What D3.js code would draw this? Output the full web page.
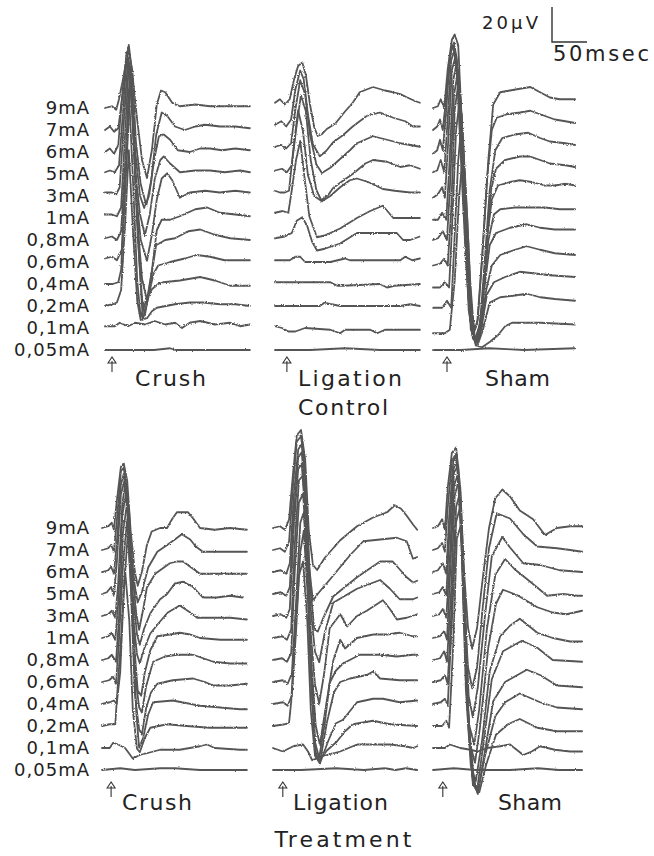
<!DOCTYPE html>
<html>
<head>
<meta charset="utf-8">
<script src="https://cdn.jsdelivr.net/npm/d3@7"></script>
<style>
  body { margin: 0; background: #fff; }
  svg { display: block; font-family: "DejaVu Sans", sans-serif; }
  .trace { fill: none; stroke: #555; stroke-width: 1.8; stroke-linejoin: round; stroke-linecap: round; }
  .label { fill: #222; font-size: 18px; letter-spacing: 1px; }
  .title { fill: #222; font-size: 22px; }
</style>
</head>
<body>
<div id="chart"></div>
<script>
// Stimulus intensities, top row to bottom row
const currents = ["9mA", "7mA", "6mA", "5mA", "3mA", "1mA", "0,8mA", "0,6mA", "0,4mA", "0,2mA", "0,1mA", "0,05mA"];
const models = ["Crush", "Ligation", "Sham"];
const groups = ["Control", "Treatment"];

// Stimulus onset (ms) for Crush, Ligation, Sham
const stimControl = [10, 17, 20];
const stimTreatment = [13, 14, 14];

// Each trace: [time in ms, amplitude in μV], one per intensity (same order as currents)
const controlCrush = [
  [[0,10,16,20,27,34,40,46,53,60,67,74,80,86,96,107,129,150,179,207], [0,1,-1,5,19,36,16,-7,-30,-40,-24,2,10,9,3,1,2,1,1,1]],
  [[0,7,13,19,26,33,39,44,51,59,66,73,81,89,100,114,129,143,164,186,207], [0,2,-1,1,23,47,34,-6,-31,-43,-29,-3,10,8,2,0,2,3,2,2,1]],
  [[0,7,13,19,24,31,37,43,50,56,63,70,77,84,93,104,121,136,150,167,186,207], [0,2,-1,4,30,57,44,1,-25,-32,-25,-5,9,10,7,1,0,2,2,1,2,1]],
  [[0,7,14,20,26,31,37,43,50,57,64,71,79,84,93,107,129,150,171,193,207], [1,2,1,5,37,68,48,2,-23,-35,-23,-3,8,10,6,1,2,2,1,2,1]],
  [[0,10,16,21,27,33,39,44,51,60,67,74,81,89,96,107,121,143,164,186,207], [2,2,1,5,43,79,55,3,-25,-37,-22,-2,10,13,9,-1,2,3,2,3,2]],
  [[0,10,17,23,29,34,40,46,53,60,67,74,81,93,107,129,146,164,186,207], [2,2,1,6,50,89,56,-1,-35,-47,-30,-7,-1,-1,1,5,6,3,2,1]],
  [[0,10,17,23,30,36,41,47,53,57,64,73,86,100,119,136,157,179,207], [1,2,0,5,51,99,57,0,-34,-43,-26,-3,0,1,5,6,3,1,0]],
  [[0,10,17,24,31,37,43,49,54,61,69,76,93,114,131,150,171,207], [2,3,1,7,58,109,58,1,-33,-22,-7,-2,0,2,4,3,1,1]],
  [[0,11,19,23,29,34,40,46,51,59,67,76,83,107,136,157,179,207], [0,0,1,8,59,111,59,2,-19,-9,-3,0,1,2,4,2,-1,-1]],
  [[0,11,17,23,29,34,40,46,51,60,67,74,100,121,140,164,186,207], [0,1,2,9,49,89,43,3,-8,-7,-3,-1,1,2,2,1,1,0]],
  [[0,14,21,33,43,57,71,86,100,110,121,136,157,179,193,207], [1,1,3,1,3,2,4,2,3,0,3,4,2,3,1,2]],
  [[0,40,70,93,100,140,207], [0,0,0,1,0,0,0]]
];

const controlLigation = [
  [[0,7,14,21,27,33,39,44,50,56,61,67,74,86,100,111,121,140,157,169,179,189,200,207], [3,5,2,5,16,24,26,19,2,-11,-16,-15,-12,-9,-2,3,9,12,10,9,8,6,4,3]],
  [[0,9,16,23,29,36,41,47,54,64,73,83,97,111,131,150,169,186,197,207], [3,5,2,6,23,34,29,9,-8,-15,-12,-7,-3,2,8,10,7,5,2,2]],
  [[0,9,16,23,29,36,43,50,59,67,79,93,107,117,140,160,179,193,207], [3,4,2,5,24,41,33,10,-7,-12,-9,-4,1,5,9,7,5,4,3]],
  [[0,10,17,24,30,37,44,51,59,66,76,83,100,111,129,140,160,179,193,207], [2,3,1,5,25,45,36,8,-9,-15,-12,-8,-3,0,6,8,7,4,5,3]],
  [[0,7,14,20,26,33,40,47,56,67,79,93,107,117,133,154,171,193,207], [3,2,2,3,26,49,37,12,0,-3,0,5,9,10,8,4,3,2,2]],
  [[0,11,19,24,30,36,41,49,60,71,93,117,136,154,169,186,207], [3,4,3,16,33,44,27,1,-11,-10,-6,0,4,7,0,0,0]],
  [[0,14,24,31,39,46,53,60,71,93,117,150,174,183,193,207], [1,2,4,11,13,8,-1,-6,-5,-2,4,4,4,0,0,2]],
  [[0,21,29,36,43,79,100,107,179,186,196,207], [1,1,3,3,0,0,2,1,1,3,1,2]],
  [[0,79,89,97,150,160,171,207], [1,1,-1,-1,0,-2,-1,0]],
  [[0,64,71,81,93,179,193,207], [0,0,2,1,0,0,1,0]],
  [[0,10,19,29,43,79,93,100,136,146,157,207], [1,0,-2,-2,0,-1,-3,-1,-1,-3,-1,-1]],
  [[0,50,100,150,207], [0,0,1,0,0]]
];

const controlSham = [
  [[0,7,11,16,21,27,31,36,41,47,53,59,64,71,79,86,96,110,124,139,153,167,181,203], [0,1,5,0,22,39,42,36,-7,-64,-110,-127,-121,-81,-30,2,9,10,11,12,9,6,5,5]],
  [[0,6,10,14,20,26,30,34,40,46,51,57,63,70,77,84,91,106,124,139,153,174,189,203], [0,2,6,0,23,46,50,40,-6,-57,-103,-117,-111,-74,-29,0,7,9,10,11,9,6,5,4]],
  [[0,6,10,14,19,24,29,34,40,47,53,60,67,74,81,89,99,117,136,153,167,189,203], [-1,1,7,1,24,55,61,47,-5,-62,-96,-107,-99,-62,-22,1,8,10,11,8,6,5,4]],
  [[0,6,11,16,20,26,31,37,43,49,54,61,69,76,83,90,103,124,139,153,167,189,203], [1,2,8,1,25,65,71,48,-3,-55,-89,-94,-83,-43,-9,3,8,10,10,8,6,5,4]],
  [[0,7,13,17,21,27,33,39,44,50,56,63,70,77,84,93,110,124,141,160,174,189,203], [-1,1,5,-1,26,72,81,55,-2,-54,-79,-82,-65,-25,-2,6,8,9,8,6,6,7,6]],
  [[0,7,13,19,23,29,34,40,46,51,57,64,71,79,87,96,117,139,160,181,203], [-1,-1,3,-1,27,79,89,62,5,-47,-69,-71,-47,-13,2,5,6,6,6,5,5]],
  [[0,7,14,20,24,30,36,41,47,53,59,66,73,81,90,110,134,153,174,189,203], [0,1,5,0,29,83,97,69,11,-40,-57,-56,-29,-3,4,7,9,7,6,6,6]],
  [[0,10,16,21,26,31,37,43,49,54,60,67,76,84,96,117,134,153,174,203], [-2,-1,2,-2,30,87,104,70,13,-33,-46,-42,-16,-2,4,7,9,7,5,4]],
  [[0,10,17,23,27,33,39,44,50,56,61,69,77,87,103,124,146,167,203], [-2,-2,1,-2,31,88,108,71,14,-26,-34,-26,-6,1,4,7,6,5,4]],
  [[0,13,20,26,30,36,41,47,53,59,64,71,81,96,117,134,153,174,203], [-1,-1,3,-1,32,83,106,66,15,-17,-22,-14,2,5,6,7,5,4,3]],
  [[0,17,24,31,37,43,49,54,61,70,81,93,103,113,153,203], [-3,-3,-1,27,73,102,62,16,-10,-11,-8,-4,1,3,3,2]],
  [[0,40,80,130,203], [0,0,1,0,1]]
];

const treatmentCrush = [
  [[0,9,14,17,21,27,31,36,41,47,51,57,64,71,83,93,100,107,123,131,140,161,183,207], [0,1,3,-1,15,35,37,27,-2,-25,-33,-25,-10,-2,0,0,5,9,9,5,0,-1,0,-1]],
  [[0,9,13,17,21,27,31,36,41,47,51,57,66,79,90,104,114,126,134,144,169,190,207], [0,1,3,-1,16,45,47,33,2,-21,-30,-24,-10,-1,2,6,9,6,2,-1,-1,-1,-1]],
  [[0,9,13,17,21,27,31,37,43,49,53,59,64,76,97,107,116,126,140,169,207], [0,1,3,-1,16,50,56,39,2,-24,-33,-21,-9,-1,5,6,6,3,-1,-1,-1]],
  [[0,7,13,17,21,27,33,39,44,50,54,60,69,83,93,104,116,130,144,164,183,201], [0,1,4,-1,17,57,66,46,0,-23,-29,-20,-11,-3,0,6,7,4,-2,-2,-1,-2]],
  [[0,9,14,19,23,29,33,39,44,50,54,60,69,79,94,111,126,136,161,183,207], [0,1,3,-1,18,64,75,53,1,-22,-27,-19,-10,-5,2,6,2,-1,-1,-1,-2]],
  [[0,9,14,19,23,29,34,40,46,51,56,61,69,79,97,111,126,140,169,197,207], [0,1,3,-1,19,70,82,53,-4,-30,-33,-20,-7,1,2,3,2,0,-1,-1,-1]],
  [[0,9,14,20,24,30,36,41,47,53,57,63,73,90,107,130,159,183,207], [0,1,3,-1,22,73,90,56,-7,-27,-30,-15,-1,2,3,3,-1,-2,-2]],
  [[0,10,16,20,24,30,36,41,47,53,57,63,70,79,101,130,147,159,183,207], [0,1,3,-1,22,67,93,56,-7,-27,-30,-15,-6,-1,1,2,0,-2,-2,-1]],
  [[0,11,17,21,26,31,37,43,49,53,59,66,73,101,140,169,197,207], [0,1,2,0,18,64,98,58,-5,-25,-19,-6,1,2,-1,-2,-3,-3]],
  [[0,11,19,21,27,33,39,44,50,54,61,69,93,121,154,197,207], [0,1,1,14,49,89,60,9,-13,-15,-7,-1,1,0,-1,-1,-1]],
  [[0,11,16,23,33,44,54,64,83,111,140,150,161,197,207], [0,0,3,2,0,-6,-4,-3,-1,-1,1,2,0,-1,-1]],
  [[0,26,47,83,104,140,207], [0,1,0,1,1,0,0]]
];

const treatmentLigation = [
  [[0,10,17,23,29,34,40,46,51,57,63,74,96,120,143,163,174,183,191,200,206], [0,1,-1,5,33,53,56,39,-1,-21,-24,-17,-7,1,6,9,13,11,7,2,-1]],
  [[0,10,17,23,29,34,40,46,51,57,64,81,110,129,153,177,191,200,206], [0,1,-1,5,39,62,65,45,-7,-29,-25,-17,-3,5,6,7,5,-5,-4]],
  [[0,11,19,24,30,36,41,47,53,59,64,71,86,120,153,171,191,200,206], [0,1,-1,5,45,70,73,50,-7,-33,-34,-27,-14,-3,6,6,-3,-6,-5]],
  [[0,11,19,24,30,36,41,47,53,60,66,74,86,120,153,167,181,200,206], [0,1,-1,4,47,78,81,53,-5,-33,-39,-22,-5,3,8,3,-3,-3,-2]],
  [[0,11,19,24,30,36,41,47,53,60,66,73,81,96,106,120,134,157,167,177,191,206], [0,1,-1,4,53,84,87,53,-5,-39,-50,-33,-7,1,-6,0,3,9,4,-2,-1,1]],
  [[0,13,20,26,31,37,43,49,54,61,67,76,86,96,103,120,143,163,181,200,206], [0,1,-1,5,53,90,93,53,-10,-50,-61,-38,-13,-1,-6,0,2,2,3,1,1]],
  [[0,13,20,26,31,37,43,49,54,60,66,74,81,90,100,124,153,177,200,206], [0,1,-1,4,50,90,95,55,-7,-47,-56,-36,-13,-6,-2,3,3,2,3,3]],
  [[0,14,21,27,33,39,44,50,56,61,67,77,87,96,110,134,143,153,181,206], [0,1,-1,5,46,91,97,57,-6,-40,-46,-23,-6,0,2,4,6,2,1,1]],
  [[0,14,21,27,33,39,44,50,56,61,67,79,90,100,110,120,143,157,181,206], [0,1,-1,5,42,87,99,59,2,-30,-34,-21,-11,-9,-4,1,3,3,1,2]],
  [[0,17,23,26,31,37,43,49,54,60,66,77,91,103,114,143,167,206], [0,1,2,14,49,86,94,60,9,-17,-20,-14,-9,-3,1,3,1,0]],
  [[0,14,29,43,50,56,67,96,120,167,189,200,206], [0,-2,1,2,-2,-7,-5,-2,2,2,1,0,1]],
  [[0,40,90,130,160,175,190,206], [0,0,1,0,1,0,1,0]]
];

const treatmentSham = [
  [[0,7,13,17,21,27,33,39,44,50,56,63,71,80,89,99,110,124,143,160,177,196,213], [0,1,5,-1,23,43,46,23,-23,-57,-69,-57,-29,0,17,22,18,10,5,-4,0,1,1]],
  [[0,7,13,17,21,27,33,39,44,50,56,63,71,80,91,110,129,149,177,196,213], [0,1,4,-1,24,51,55,30,-27,-67,-79,-67,-33,1,21,18,9,2,1,0,-1]],
  [[0,7,14,19,23,29,34,40,46,51,57,64,74,84,99,110,129,153,181,213], [0,1,5,-1,31,63,67,31,-31,-71,-83,-66,-26,9,20,14,5,4,1,0]],
  [[0,9,14,19,23,29,34,40,46,51,59,66,77,89,103,117,139,163,186,206,213], [0,1,4,-1,31,71,76,37,-31,-74,-86,-66,-20,11,20,14,7,-1,0,-1,-1]],
  [[0,9,14,19,24,30,36,41,47,53,60,67,79,90,100,120,149,171,191,213], [0,1,4,-1,33,82,86,45,-30,-73,-84,-64,-18,7,15,12,5,2,1,3]],
  [[0,10,16,20,24,30,36,41,47,54,61,70,81,96,110,124,149,171,196,213], [0,1,4,-1,33,87,94,50,-30,-73,-82,-59,-19,1,7,11,3,0,-2,-2]],
  [[0,10,16,20,26,31,37,43,49,56,63,71,84,100,127,149,171,213], [0,1,5,-1,40,94,103,57,-23,-66,-74,-51,-11,5,11,7,0,-1]],
  [[0,11,17,21,27,33,39,44,50,57,64,74,86,103,134,153,177,213], [0,1,4,-1,46,100,109,63,-17,-57,-64,-40,-11,0,7,4,-2,-3]],
  [[0,11,17,21,27,33,39,44,50,57,64,74,89,103,124,153,177,213], [0,1,3,-1,47,104,113,64,-10,-46,-50,-30,-7,1,6,1,-2,-3]],
  [[0,13,19,23,29,34,40,46,51,59,66,76,90,107,124,149,177,213], [0,0,3,-1,47,107,115,70,1,-33,-38,-22,-5,1,4,-1,-3,-3]],
  [[0,17,24,39,53,64,77,96,110,129,141,153,174,196,213], [0,0,2,0,-1,-2,0,1,2,-4,-2,1,-1,-2,-2]],
  [[0,30,60,110,150,180,213], [0,1,0,0,1,0,0]]
];

function draw() {
  const dimensions = { width: 654, height: 856, labelX: 90 };

  const svg = d3
    .select("#chart")
    .append("svg")
    .attr("width", dimensions.width)
    .attr("height", dimensions.height);

  // rough, scanned-looking strokes
  const filter = svg.append("defs").append("filter").attr("id", "rough")
    .attr("x", "-5%").attr("y", "-5%").attr("width", "110%").attr("height", "110%");
  filter.append("feTurbulence")
    .attr("type", "fractalNoise").attr("baseFrequency", 0.9).attr("numOctaves", 1).attr("seed", 3)
    .attr("result", "noise");
  filter.append("feDisplacementMap")
    .attr("in", "SourceGraphic").attr("in2", "noise").attr("scale", 2.6)
    .attr("xChannelSelector", "R").attr("yChannelSelector", "G");

  // 50 ms = 35 px, 20 μV = 35 px
  const msScale = d3.scaleLinear().domain([0, 200]).range([0, 140]);
  const uvScale = d3.scaleLinear().domain([0, 20]).range([0, -35]);

  const blocks = [
    {
      name: groups[0], rows: [108, 350], x0: [105, 275, 433],
      traces: [controlCrush, controlLigation, controlSham], stim: stimControl,
      arrowY: 372, nameX: [135, 298, 485], nameY: 386, nameW: [71, 104, 65],
      titleY: 415, titleW: 90,
    },
    {
      name: groups[1], rows: [528, 770], x0: [102, 273, 433],
      traces: [treatmentCrush, treatmentLigation, treatmentSham], stim: stimTreatment,
      arrowY: 797, nameX: [122, 293, 498], nameY: 810, nameW: [70, 95, 64],
      titleY: 847, titleW: 137,
    },
  ];

  blocks.forEach((b) => {
    const g = svg.append("g");

    const yRow = d3.scalePoint().domain(currents).range(b.rows);

    // Intensity labels
    g.selectAll("text.label")
      .data(currents)
      .join("text")
      .attr("class", "label")
      .attr("x", dimensions.labelX)
      .attr("y", (d) => yRow(d) + 6)
      .attr("text-anchor", "end")
      .text((d) => d);

    models.forEach((m, i) => {
      const xScale = d3
        .scaleLinear()
        .domain(msScale.domain())
        .range([b.x0[i], b.x0[i] + msScale.range()[1]]);

      const panel = g.append("g");

      panel
        .append("g")
        .attr("filter", "url(#rough)")
        .selectAll("path.trace")
        .data(b.traces[i])
        .join("path")
        .attr("class", "trace")
        .attr("d", (d, j) =>
          d3
            .line()
            .x((p) => xScale(p[0]))
            .y((p) => yRow(currents[j]) + uvScale(p[1]))(d3.zip(d[0], d[1]))
        );

      // Stimulus arrow
      const ax = xScale(b.stim[i]);
      const ay = b.arrowY;
      panel
        .append("path")
        .attr("d", `M${ax},${ay} V${ay - 11} M${ax - 4},${ay - 9} L${ax},${ay - 15} L${ax + 4},${ay - 9} Z`)
        .attr("fill", "none")
        .attr("stroke", "#333")
        .attr("stroke-width", 1.1);

      panel
        .append("text")
        .attr("class", "title")
        .attr("x", b.nameX[i])
        .attr("y", b.nameY)
        .attr("textLength", b.nameW[i])
        .attr("lengthAdjust", "spacing")
        .text(m);
    });

    g.append("text")
      .attr("class", "title")
      .attr("x", 343)
      .attr("y", b.titleY)
      .attr("text-anchor", "middle")
      .attr("textLength", b.titleW)
      .attr("lengthAdjust", "spacing")
      .text(b.name);
  });

  // Scale bar
  const sb = { x: 552, y: 42 };
  svg
    .append("path")
    .attr("d", `M${sb.x},${sb.y + uvScale(20)} V${sb.y} H${sb.x + msScale(50)}`)
    .attr("fill", "none")
    .attr("stroke", "#333")
    .attr("stroke-width", 1.4);

  svg.append("text")
    .attr("x", 482).attr("y", 29)
    .attr("font-size", 18)
    .attr("fill", "#222")
    .attr("textLength", 56)
    .attr("lengthAdjust", "spacing")
    .text("20μV");

  svg.append("text")
    .attr("x", 553).attr("y", 61)
    .attr("font-size", 21)
    .attr("fill", "#222")
    .attr("textLength", 96)
    .attr("lengthAdjust", "spacing")
    .text("50msec");
}

draw();
</script>
</body>
</html>
